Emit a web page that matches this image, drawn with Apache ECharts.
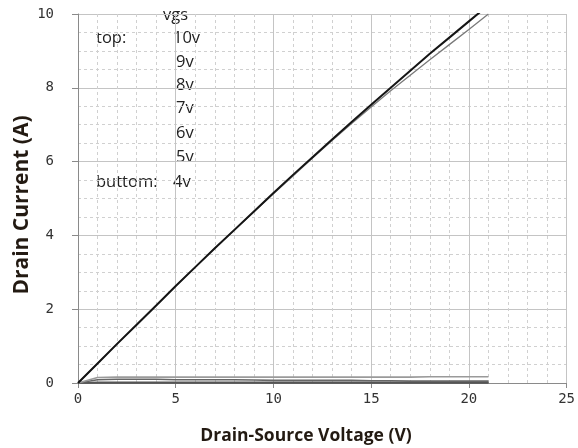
<!DOCTYPE html>
<html>
<head>
<meta charset="utf-8">
<script src="https://cdn.jsdelivr.net/npm/echarts@6/dist/echarts.min.js"></script>
<style>html,body{margin:0;padding:0;background:#fff}#c{width:578px;height:448px}</style>
</head>
<body>
<div id="c"></div>
<script>
// ---- data ----
const vds = [0,1,2,3,4,5,6,7,8,9,10,11,12,13,14,15,16,17,18,19,20,21];
const id10 = [0,0.53,1.06,1.58,2.10,2.63,3.14,3.65,4.15,4.65,5.15,5.64,6.12,6.60,7.07,7.54,8.00,8.46,8.92,9.36,9.80,10.24];
const id9  = [0,0.53,1.06,1.58,2.10,2.63,3.14,3.65,4.14,4.64,5.13,5.61,6.10,6.57,7.03,7.48,7.92,8.34,8.76,9.17,9.58,10.00];
const id8  = [0,0.15,0.16,0.16,0.16,0.16,0.16,0.16,0.16,0.16,0.16,0.16,0.16,0.16,0.16,0.16,0.16,0.16,0.17,0.17,0.17,0.17];
const id7  = [0,0.09,0.10,0.10,0.10,0.09,0.09,0.09,0.09,0.08,0.07,0.07,0.07,0.07,0.07,0.06,0.06,0.05,0.05,0.05,0.05,0.05];
const id6  = [0,0.02,0.02,0.02,0.02,0.02,0.02,0.02,0.02,0.02,0.02,0.02,0.02,0.02,0.02,0.02,0.02,0.02,0.02,0.02,0.02,0.02];
const id5  = [0,0,0,0,0,0,0,0,0,0,0,0,0,0,0,0,0,0,0,0,0,0];
const id4  = [0,0,0,0,0,0,0,0,0,0,0,0,0,0,0,0,0,0,0,0,0,0];
const legendHeader = "vgs";
const legendTop = "top:";
const legendBottom = "buttom:";
const vgsLabels = ["10v","9v","8v","7v","6v","5v","4v"];
const xTitle = "Drain-Source Voltage (V)";
const yTitle = "Drain Current (A)";

const pairs = arr => vds.map((v,i)=>[v,arr[i]]);
const gridCol = '#c4c4c4';
const minorCol = '#d0d0d0';
const axisCol = '#8a8a8a';
const tickFont = {fontFamily:'DejaVu Sans Mono', fontSize:14, color:'#333'};

const seriesDefs = [
  {d:id10, c:'#151515', w:2},
  {d:id9,  c:'#7a7a7a', w:1.3},
  {d:id8,  c:'#9a9a9a', w:1.6},
  {d:id7,  c:'#666666', w:1.6},
  {d:id6,  c:'#555555', w:1.6},
  {d:id5,  c:'#555555', w:1.6},
  {d:id4,  c:'#555555', w:1.6}
];

const legFontCss = '16.5px "Open Sans"';
const legRowsY = [38,62,85,108,133,157,182];
const legRowsX = [173,176,176,176,176,176,173];
const txt = (x,y,t) => ({type:'text', x:x, y:y, style:{text:t, font:legFontCss, fill:'#222', align:'left', verticalAlign:'middle'}});
const graphics = [
  txt(163,15,legendHeader),
  txt(96,38,legendTop),
  txt(96,182,legendBottom),
  ...vgsLabels.map((t,i)=>txt(legRowsX[i], legRowsY[i], t)),
  {type:'text', x:306, y:436, style:{text:xTitle, font:'bold 17.5px "Open Sans"', fill:'#231a12', align:'center', verticalAlign:'middle'}},
  {type:'text', x:22, y:205, rotation:Math.PI/2, style:{text:yTitle, font:'bold 21px "Open Sans"', fill:'#231a12', align:'center', verticalAlign:'middle'}}
];

const chart = echarts.init(document.getElementById('c'), null, {renderer:'canvas'});
chart.setOption({
  animation:false,
  backgroundColor:'#fff',
  grid:{left:78, right:7, top:14, bottom:65, containLabel:false},
  xAxis:{
    type:'value', min:0, max:25, interval:5,
    axisLine:{show:true, onZero:false, lineStyle:{color:axisCol, width:1}},
    axisTick:{show:true, length:5, lineStyle:{color:axisCol}},
    axisLabel:{...tickFont, margin:9},
    splitLine:{show:true, lineStyle:{color:gridCol, width:1}},
    minorTick:{show:false, splitNumber:5},
    minorSplitLine:{show:true, lineStyle:{color:minorCol, width:1, type:[3,3]}}
  },
  yAxis:{
    type:'value', min:0, max:10, interval:2,
    axisLine:{show:true, onZero:false, lineStyle:{color:axisCol, width:1}},
    axisTick:{show:true, length:6, lineStyle:{color:axisCol}},
    axisLabel:{...tickFont, margin:24},
    splitLine:{show:true, lineStyle:{color:gridCol, width:1}},
    minorTick:{show:false, splitNumber:4},
    minorSplitLine:{show:true, lineStyle:{color:minorCol, width:1, type:[3,3]}}
  },
  series: seriesDefs.slice().reverse().map(s=>({
    type:'line', data:pairs(s.d), showSymbol:false, symbol:'none', clip:true,
    lineStyle:{color:s.c, width:s.w}, smooth:false, z:3
  })),
  graphic: graphics
});
</script>
</body>
</html>
